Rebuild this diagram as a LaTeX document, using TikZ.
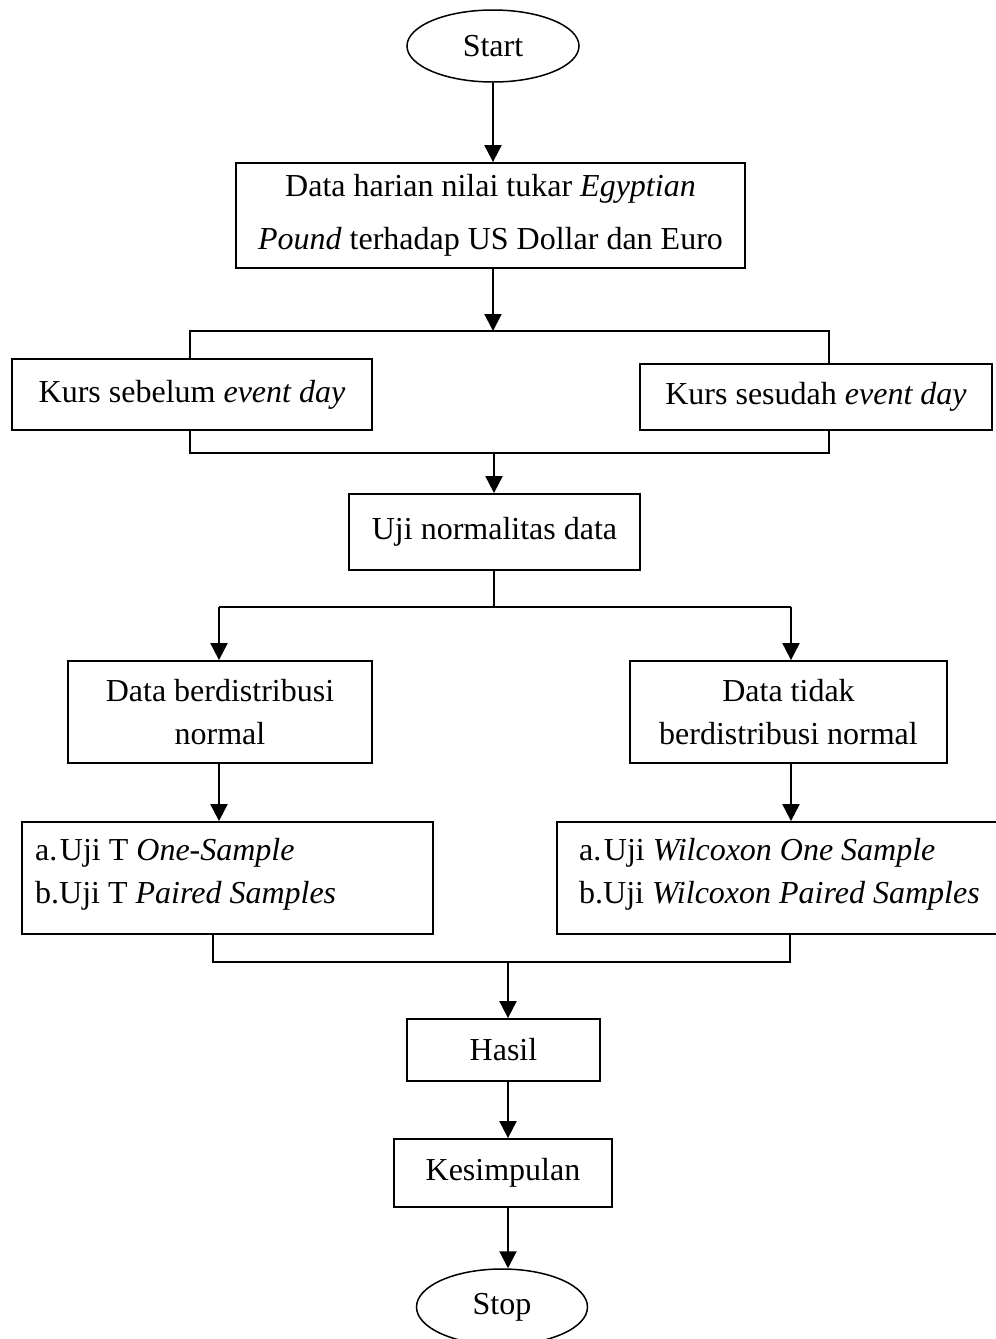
\documentclass[tikz,border=0pt]{standalone}
\usepackage{fontspec}
\setmainfont{Liberation Serif}
\usetikzlibrary{shapes.geometric,arrows.meta}
\begin{document}
\begin{tikzpicture}[x=1pt,y=-1pt,
  every node/.style={font=\fontsize{32}{43}\selectfont},
  box/.style={draw, line width=1.8pt, rectangle, inner sep=0pt, align=center},
  term/.style={draw, line width=1.5pt, ellipse, inner sep=0pt},
  txt/.style={inner sep=0pt, align=left, anchor=west},
  conn/.style={line width=2pt, line join=miter},
  arr/.style={line width=2pt, -{Triangle[length=17pt,width=17pt]}}]
\useasboundingbox (0,0) rectangle (996,1339);
% nodes
\node[term, minimum width=172pt, minimum height=72pt] (start) at (493,46) {Start};
\node[box, minimum width=509pt, minimum height=105pt, font=\fontsize{32}{53}\selectfont] (data) at (490.5,215.5)
  {Data harian nilai tukar \textit{Egyptian}\\\textit{Pound} terhadap US Dollar dan Euro};
\node[box, minimum width=360pt, minimum height=71pt] (kursA) at (192,394.5) {Kurs sebelum \textit{event day}};
\node[box, minimum width=352pt, minimum height=66pt] (kursB) at (816,397) {Kurs sesudah \textit{event day}};
\node[box, minimum width=291pt, minimum height=76pt] (uji) at (494.5,532) {Uji normalitas data};
\node[box, minimum width=304pt, minimum height=102pt] (normal) at (220,712) {Data berdistribusi\\normal};
\node[box, minimum width=317pt, minimum height=102pt] (tidak) at (788.5,712) {Data tidak\\berdistribusi normal};
\node[box, minimum width=411pt, minimum height=112pt] (ujiT) at (227.5,878) {};
\node[txt] (ujiTtext) at (35,874) {a.\hspace{0.08em}Uji T \textit{One-Sample}\\b.Uji T \textit{Paired Samples}};
\node[box, minimum width=445pt, minimum height=112pt] (wil) at (779.5,878) {};
\node[txt] (wiltext) at (579,874) {a.\hspace{0.08em}Uji \textit{Wilcoxon One Sample}\\b.Uji \textit{Wilcoxon Paired Samples}};
\node[box, minimum width=193pt, minimum height=62pt] (hasil) at (503.5,1050) {Hasil};
\node[box, minimum width=218pt, minimum height=68pt] (kes) at (503,1173) {Kesimpulan};
\node[term, minimum width=171pt, minimum height=76pt] (stop) at (502,1307) {Stop};
% coordinates
\coordinate (tb) at (493,331);
\coordinate (tbL) at (190,331);
\coordinate (tbR) at (829,331);
\coordinate (bbL) at (190,453);
\coordinate (bbR) at (829,453);
\coordinate (bbM) at (494,453);
\coordinate (sp) at (494,607);
\coordinate (spL) at (219,607);
\coordinate (spR) at (791,607);
\coordinate (jL) at (213,962);
\coordinate (jR) at (790,962);
\coordinate (jM) at (508,962);
% connectors
\draw[arr] (start.south) -- (start.south |- data.north);
\draw[arr] (tb |- data.south) -- (tb);
\draw[conn] (kursA.north -| tbL) -- (tbL) -- (tbR) -- (kursB.north -| tbR);
\draw[conn] (kursA.south -| bbL) -- (bbL) -- (bbR) -- (kursB.south -| bbR);
\draw[arr] (bbM) -- (bbM |- uji.north);
\draw[conn] (sp |- uji.south) -- (sp);
\draw[conn] (spL) -- (spR);
\draw[arr] (spL) -- (spL |- normal.north);
\draw[arr] (spR) -- (spR |- tidak.north);
\draw[arr] (normal.south -| spL) -- (ujiT.north -| spL);
\draw[arr] (tidak.south -| spR) -- (wil.north -| spR);
\draw[conn] (ujiT.south -| jL) -- (jL) -- (jR) -- (wil.south -| jR);
\draw[arr] (jM) -- (jM |- hasil.north);
\draw[arr] (hasil.south -| jM) -- (kes.north -| jM);
\draw[arr] (kes.south -| jM) -- (stop.north -| jM);
\end{tikzpicture}
\end{document}
